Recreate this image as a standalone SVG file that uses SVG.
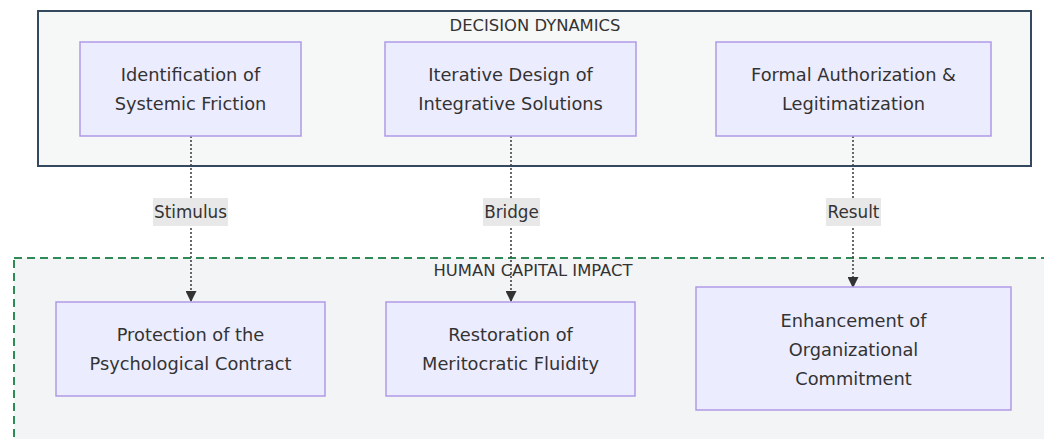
<svg xmlns="http://www.w3.org/2000/svg" width="1044" height="439" viewBox="0 0 1044 439">
  <style>
    text { font-family: "DejaVu Sans", "Liberation Sans", sans-serif; fill: #333333; }
    .node rect { fill: #ececff; stroke: #b09ae6; stroke-width: 1.5; }
    .node text { font-size: 17.8px; text-anchor: middle; dominant-baseline: central; }
    .cluster-title { font-size: 16.4px; text-anchor: middle; dominant-baseline: central; }
    .edge { fill: none; stroke: #444444; stroke-width: 1.6; stroke-dasharray: 2 2; }
    .edge-label rect { fill: #e8e8e8; }
    .edge-label text { font-size: 16.8px; text-anchor: middle; dominant-baseline: central; }
  </style>
  <defs>
    <marker id="arrowhead" viewBox="0 0 10 10" refX="9" refY="5" markerWidth="11" markerHeight="11" markerUnits="userSpaceOnUse" orient="auto">
      <path d="M0,0 L10,5 L0,10 Z" fill="#333333"/>
    </marker>
  </defs>
  <rect width="1044" height="439" fill="#ffffff"/>

  <!-- Subgraph: decision dynamics -->
  <g id="cluster-decision">
    <rect x="38" y="11" width="993" height="155" fill="#f6f7f7" stroke="#34495e" stroke-width="2"/>
    <text class="cluster-title" x="535" y="25">DECISION DYNAMICS</text>
  </g>

  <!-- Subgraph: human capital impact -->
  <g id="cluster-human">
    <rect x="14" y="258" width="1040" height="200" fill="#f3f4f6" stroke="#2e8b57" stroke-width="2" stroke-dasharray="8 5"/>
    <text class="cluster-title" x="533" y="270">HUMAN CAPITAL IMPACT</text>
  </g>

  <!-- Connectors -->
  <g id="connectors">
    <path class="edge" d="M191,136 L191,301" marker-end="url(#arrowhead)"/>
    <path class="edge" d="M511,136 L511,301" marker-end="url(#arrowhead)"/>
    <path class="edge" d="M853,136 L853,287" marker-end="url(#arrowhead)"/>
    <g class="edge-label">
      <rect x="153" y="198" width="75" height="28"/>
      <text x="190.5" y="212">Stimulus</text>
    </g>
    <g class="edge-label">
      <rect x="483" y="198" width="57" height="28"/>
      <text x="511.5" y="212">Bridge</text>
    </g>
    <g class="edge-label">
      <rect x="826" y="198" width="55" height="28"/>
      <text x="853.5" y="212">Result</text>
    </g>
  </g>

  <!-- Decision nodes -->
  <g id="node-friction" class="node">
    <rect x="80" y="42" width="221" height="94"/>
    <text x="190.5" y="74">Identification of</text>
    <text x="190.5" y="103">Systemic Friction</text>
  </g>
  <g id="node-design" class="node">
    <rect x="385" y="42" width="251" height="94"/>
    <text x="510.5" y="74">Iterative Design of</text>
    <text x="510.5" y="103">Integrative Solutions</text>
  </g>
  <g id="node-authorization" class="node">
    <rect x="716" y="42" width="275" height="94"/>
    <text x="853.5" y="74">Formal Authorization &amp;</text>
    <text x="853.5" y="103">Legitimatization</text>
  </g>

  <!-- Impact nodes -->
  <g id="node-contract" class="node">
    <rect x="56" y="302" width="269" height="94"/>
    <text x="190.5" y="334">Protection of the</text>
    <text x="190.5" y="363">Psychological Contract</text>
  </g>
  <g id="node-fluidity" class="node">
    <rect x="386" y="302" width="249" height="94"/>
    <text x="510.5" y="334">Restoration of</text>
    <text x="510.5" y="363">Meritocratic Fluidity</text>
  </g>
  <g id="node-commitment" class="node">
    <rect x="696" y="287" width="315" height="123"/>
    <text x="853.5" y="320">Enhancement of</text>
    <text x="853.5" y="349">Organizational</text>
    <text x="853.5" y="378">Commitment</text>
  </g>
</svg>
